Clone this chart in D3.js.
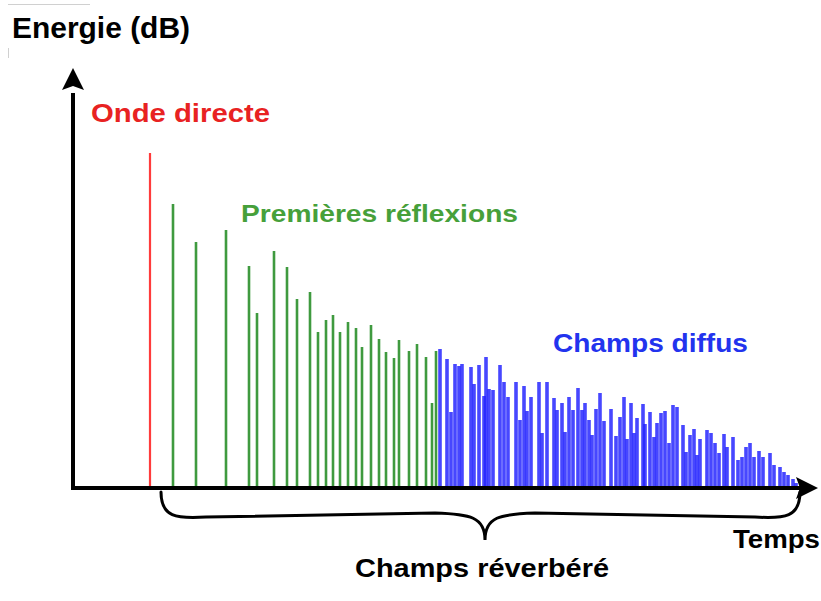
<!DOCTYPE html>
<html><head><meta charset="utf-8">
<script src="https://cdn.jsdelivr.net/npm/d3@7"></script>
<style>html,body{margin:0;padding:0;background:#fff;}svg{display:block;}</style>
</head><body>
<svg id="c" width="821" height="601"></svg>
<script>
// time (arbitrary units) and energy (arbitrary dB units)
const directTime = [77];
const directEnergy = [335];
const earlyTimes = [100,123,153,176,184,201,214,224,237,245,253,260,267,275,283,289,298,306,313,321,326,336,344,353,359,363];
const earlyEnergy = [284,246,258,222,175,237,221,189,196,156,168,173,156,166,160,141,163,149,136,130,148,137,144,131,85,137];
const diffuseTimes = [367,374,378,382,386,389,398,401,406,411,413,416,420,427,431,435,443,447,451,454,458,466,469,474,481,484,489,492,496,500,505,509,512,516,519,523,527,531,538,543,547,551,554,558,561,564,570,572,577,581,584,588,592,596,600,604,610,613,617,621,624,627,634,638,642,646,651,654,660,665,669,673,677,681,686,690,697,701,707,711,715,720,723];
const diffuseEnergy = [139,129,76,124,122,124,121,104,123,92,131,99,98,123,106,91,106,68,102,77,91,106,55,106,90,78,85,56,91,78,100,78,85,68,53,79,95,67,79,52,71,91,49,85,55,70,84,64,76,51,65,75,77,45,83,81,63,36,53,59,33,49,58,55,45,35,54,41,51,28,31,41,45,31,37,31,35,23,21,16,13,9,5];
const labels = {yTitle:"Energie (dB)", xTitle:"Temps", direct:"Onde directe", early:"Premières réflexions", diffuse:"Champs diffus", reverb:"Champs réverbéré"};

const svg = d3.select("#c");
const x = d3.scaleLinear().domain([0,745]).range([73,818]);
const y = d3.scaleLinear().domain([0,420]).range([488,68]);
const font = "'Liberation Sans', Arial, Helvetica, sans-serif";

// faint artifacts
svg.append("line").attr("x1",8).attr("x2",90).attr("y1",4.5).attr("y2",4.5).attr("stroke","#d0d0d0").attr("stroke-width",1);
svg.append("line").attr("x1",8.5).attr("x2",8.5).attr("y1",48).attr("y2",58).attr("stroke","#d0d0d0").attr("stroke-width",1);

function bars(times, vals, color, w, op){
  svg.append("g").selectAll("line").data(times).join("line")
    .attr("x1",(d)=>x(d)).attr("x2",(d)=>x(d))
    .attr("y1",y(0)).attr("y2",(d,i)=>y(vals[i]))
    .attr("stroke",color).attr("stroke-width",w).attr("stroke-opacity",op);
}
bars(directTime, directEnergy, "#ff3b3b", 2.2, 1);
bars(earlyTimes, earlyEnergy, "#3f9a3f", 2.6, 1);
bars(diffuseTimes, diffuseEnergy, "#1e1eff", 3.6, 0.82);

// axes
const ax = svg.append("g");
ax.append("line").attr("x1",x(0)).attr("x2",x(0)).attr("y1",y(0)+2).attr("y2",y(395)).attr("stroke","#000").attr("stroke-width",4);
ax.append("line").attr("x1",x(0)-2).attr("x2",x(728)).attr("y1",y(0)).attr("y2",y(0)).attr("stroke","#000").attr("stroke-width",4);
// arrowheads
const ya = x(0), yt = y(420);
ax.append("path").attr("d",`M${ya},${yt} L${ya+11},${yt+22} L${ya},${yt+18} L${ya-11},${yt+22} Z`).attr("fill","#000");
const xt = x(745), xb = y(0);
ax.append("path").attr("d",`M${xt},${xb} L${xt-22},${xb-11} L${xt-18},${xb} L${xt-22},${xb+11} Z`).attr("fill","#000");

// brace
const bL = x(88), bR = x(727), bM = x(412), bTop = 492, bMid = 517, bTip = 540;
svg.append("path")
  .attr("d",`M${bL},${bTop} C${bL},${bMid} ${bL+15},${bMid+2} ${bL+45},${bMid} L${bM-50},${bMid-4} C${bM-15},${bMid-3} ${bM},${bMid} ${bM},${bTip}
             C${bM},${bMid} ${bM+15},${bMid-3} ${bM+50},${bMid-4} L${bR-45},${bMid} C${bR-15},${bMid+2} ${bR},${bMid} ${bR},${bTop}`)
  .attr("fill","none").attr("stroke","#000").attr("stroke-width",3).attr("stroke-linecap","round");

function txt(s, xx, yy, size, color, len){
  svg.append("text").attr("x",xx).attr("y",yy).attr("font-family",font).attr("font-weight","bold")
    .attr("font-size",size).attr("fill",color).attr("textLength",len).attr("lengthAdjust","spacingAndGlyphs").text(s);
}
txt(labels.yTitle, 12, 38, 29, "#000", 178);
txt(labels.direct, 91, 122, 25, "#e82222", 179);
txt(labels.early, 241, 222, 24.5, "#46a03a", 277);
txt(labels.diffuse, 553, 352, 26, "#2233ee", 195);
txt(labels.xTitle, 733, 548, 25, "#000", 87);
txt(labels.reverb, 355, 577, 26, "#000", 254);
</script>
</body></html>
